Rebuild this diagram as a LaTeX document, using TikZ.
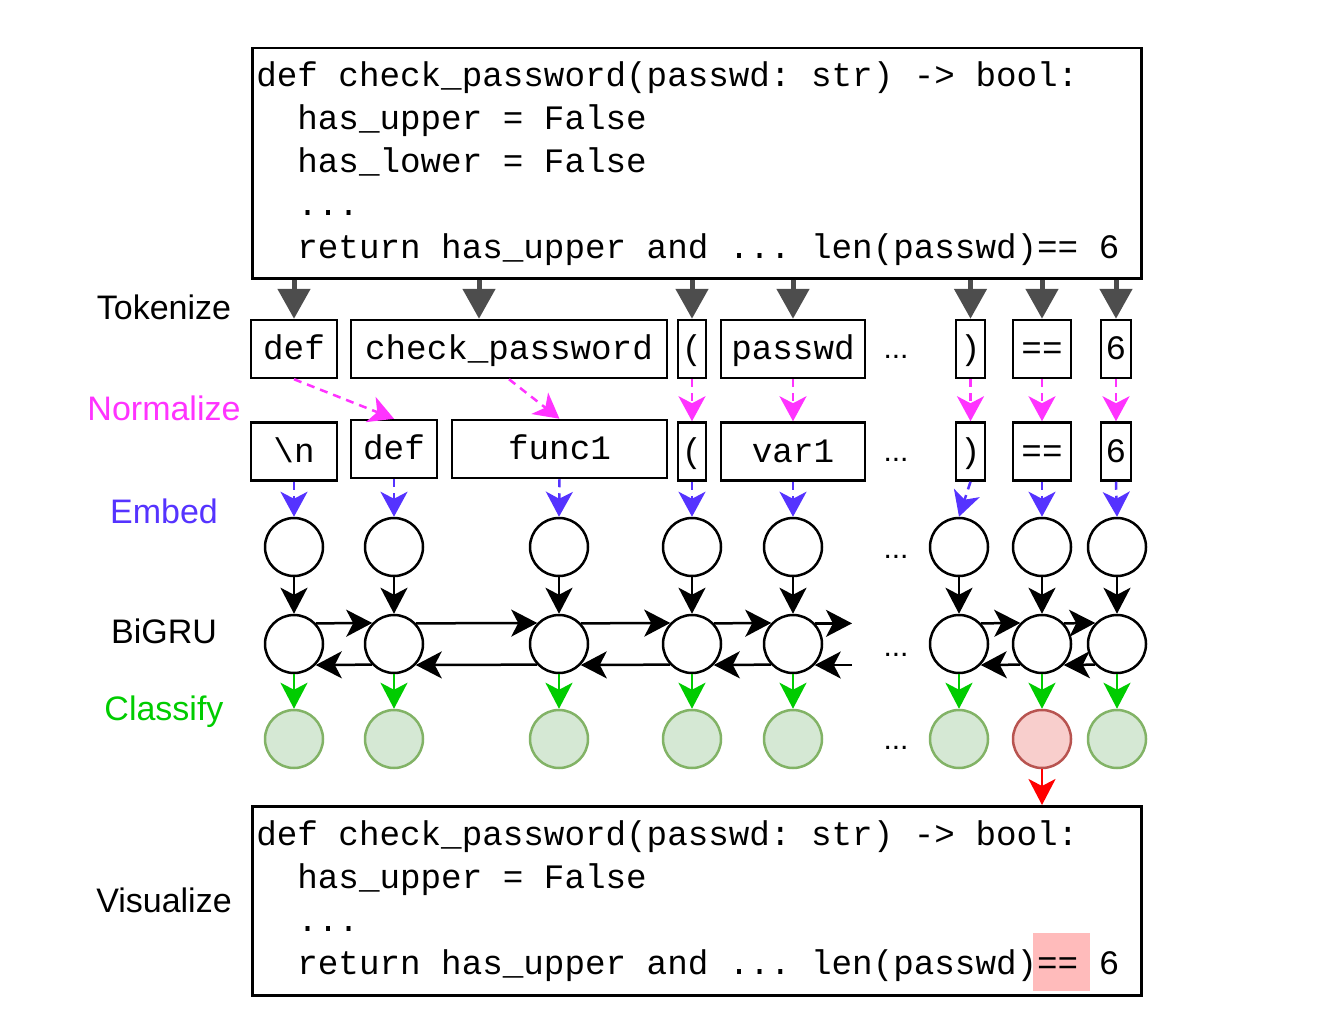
\documentclass[tikz,border=0pt]{standalone}
\usepackage{fontspec}
\setsansfont{Liberation Sans}
\setmonofont{Liberation Mono}
\usepackage{xcolor}
\usepackage{tikz}
\usetikzlibrary{arrows.meta}
\usetikzlibrary{positioning}
\definecolor{tokgray}{HTML}{4D4D4D}
\definecolor{normpink}{HTML}{FF33FF}
\definecolor{embblue}{HTML}{5533FF}
\definecolor{clsgreen}{HTML}{00CC00}
\definecolor{okfill}{HTML}{D5E8D4}
\definecolor{okline}{HTML}{82B366}
\definecolor{badfill}{HTML}{F8CECC}
\definecolor{badline}{HTML}{B85450}
\definecolor{hilite}{HTML}{FFBBBB}
\newcommand{\codefont}{\fontsize{34.25}{43}\selectfont\ttfamily\frenchspacing\spaceskip 20.55pt\relax}

\begin{document}
\begin{tikzpicture}[x=1pt,y=-1pt,
	code/.style={draw,line width=2.5pt,align=flush left,anchor=north west,inner xsep=4pt,text width=881pt,font=\codefont},
	stage/.style={font=\fontsize{34}{40}\selectfont\sffamily},
	gap/.style={font=\fontsize{30}{36}\selectfont\sffamily},
	cell/.style={circle,draw,line width=2.5pt,minimum size=58pt,inner sep=0pt},
	okcell/.style={cell,draw=okline,fill=okfill},
	badcell/.style={cell,draw=badline,fill=badfill},
	tokarrow/.style={tokgray,line width=5pt,-{Triangle[width=32pt,length=30pt]}},
	normarrow/.style={normpink,line width=2.5pt,dash pattern=on 8pt off 6pt,-{Stealth[width=27pt,length=25pt,inset=7pt]}},
	embarrow/.style={embblue,line width=2.5pt,dash pattern=on 8pt off 6pt,-{Stealth[width=27pt,length=25pt,inset=7pt]}},
	rnn/.style={black,line width=2.5pt,-{Stealth[width=27pt,length=26pt,inset=7pt]}},
	clsarrow/.style={clsgreen,line width=2.5pt,-{Stealth[width=27pt,length=26pt,inset=7pt]}},
	badarrow/.style={red,line width=2.5pt,-{Stealth[width=27pt,length=26pt,inset=7pt]}}]
	\tikzstyle{tok}=[draw,line width=2.5pt,minimum height=58pt,inner sep=0pt,text height=26pt,text depth=5pt,
		font=\fontsize{34.25}{40}\selectfont\ttfamily]
	\useasboundingbox (0,0) rectangle (1325,1027);

	\node[code,minimum height=230pt] (src) at (251,47) {def check\_password(passwd: str) -> bool:\\
		\phantom{xx}has\_upper = False\\
		\phantom{xx}has\_lower = False\\
		\phantom{xx}...\\
		\phantom{xx}return has\_upper and ... len(passwd)== 6};

	\node[tok,minimum width=86pt] (t1) at (294,349) {def};
	\node[tok,minimum width=316pt] (t2) at (509,349) {check\_password};
	\node[tok,minimum width=28pt] (t3) at (692,349) {(};
	\node[tok,minimum width=144pt] (t4) at (793,349) {passwd};
	\node[tok,minimum width=29pt] (t5) at (970.5,349) {)};
	\node[tok,minimum width=58pt] (t6) at (1042,349) {==};
	\node[tok,minimum width=30pt] (t7) at (1116,349) {6};

	\node[tok,minimum width=86pt,below=42pt of t1] (n1) {\textbackslash n};
	\node[tok,minimum width=86pt] (n2) at (394,449) {def};
	\node[tok,minimum width=215pt] (n3) at (559.5,449) {func1};
	\node[tok,minimum width=28pt,below=42pt of t3] (n4) {(};
	\node[tok,minimum width=144pt,below=42pt of t4] (n5) {var1};
	\node[tok,minimum width=29pt,below=42pt of t5] (n6) {)};
	\node[tok,minimum width=58pt,below=42pt of t6] (n7) {==};
	\node[tok,minimum width=30pt,below=42pt of t7] (n8) {6};

	\foreach \x/\s [count=\i] in {294/okcell,394/okcell,559/okcell,692/okcell,793/okcell,959/okcell,1042/badcell,1117/okcell} {
		\node[cell] (e\i) at (\x,547) {};
		\node[cell] (b\i) at (\x,644) {};
		\node[\s] (c\i) at (\x,739) {};
	}
	\foreach \y [count=\i] in {357,460,557,655,748}
		\node[gap] (gap\i) at (896,\y) {...};

	\fill[hilite] (1033,933) rectangle (1090,991);
	\node[code,minimum height=189pt] (dst) at (251,805) {def check\_password(passwd: str) -> bool:\\
		\phantom{xx}has\_upper = False\\
		\phantom{xx}...\\
		\phantom{xx}return has\_upper and ... len(passwd)== 6};

	\node[stage] (lbltok) at (164,307) {Tokenize};
	\node[stage,normpink] (lblnorm) at (164,408) {Normalize};
	\node[stage,embblue] (lblemb) at (164,511) {Embed};
	\node[stage] (lblrnn) at (164,631) {BiGRU};
	\node[stage,clsgreen] (lblcls) at (164,712) {Classify};
	\node[stage] (lblvis) at (164,900) {Visualize};

	\foreach \i/\dx in {1/0,2/-30,3/0,4/0,5/0,6/0,7/0}
		\draw[tokarrow] ([xshift=\dx pt]t\i.north |- src.south) -- ([xshift=\dx pt]t\i.north);

	\draw[normarrow] (t1.south) -- (n2.north);
	\draw[normarrow] (t2.south) -- (n3.north);
	\foreach \a/\b in {3/4,4/5,5/6,6/7,7/8}
		\draw[normarrow] (t\a) -- (n\b);

	\foreach \i in {1,...,8} {
		\draw[embarrow] (n\i.south) -- (e\i.north);
		\draw[rnn] (e\i) -- (b\i);
		\draw[clsarrow] (b\i) -- (c\i);
	}
	\foreach \a/\b in {1/2,2/3,3/4,4/5,6/7,7/8} {
		\draw[rnn] (b\a.43.6) -- (b\b.136.4);
		\draw[rnn] (b\b.223.6) -- (b\a.316.4);
	}
	\coordinate (fwdend) at (852,0 |- b5.43.6);
	\coordinate (bwdend) at (852,0 |- b5.316.4);
	\draw[rnn] (b5.43.6) -- (fwdend);
	\draw[rnn] (bwdend) -- (b5.316.4);

	\draw[badarrow] (c7.south) -- (c7.south |- dst.north);
\end{tikzpicture}
\end{document}
